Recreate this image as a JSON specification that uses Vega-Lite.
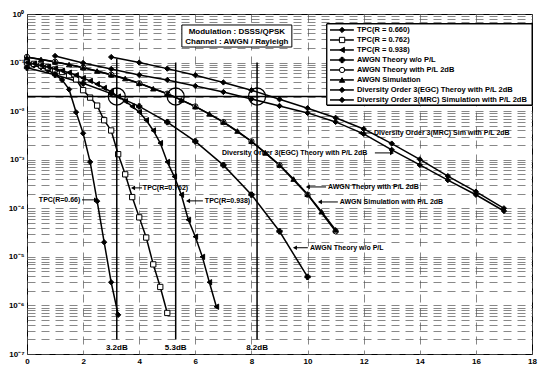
{
  "$schema": "https://vega.github.io/schema/vega-lite/v6.json",
  "width": 505,
  "height": 340,
  "autosize": {"type": "none"},
  "padding": {"left": 27, "top": 14, "right": 7, "bottom": 11},
  "background": "white",
  "config": {
    "view": {"stroke": "black", "strokeWidth": 1},
    "axis": {
      "domain": false, "ticks": false, "title": null,
      "labelFont": "Liberation Sans", "labelFontWeight": "bold", "labelFontSize": 8, "labelColor": "black",
      "gridColor": "#555", "gridDash": [8, 6], "gridWidth": 0.7, "gridOpacity": 1
    },
    "text": {"font": "Liberation Sans", "fontWeight": "bold", "fontSize": 7, "color": "black"}
  },
  "datasets": {
    "curves": [
      {"s": "TPC(R = 0.660)", "x": 0, "y": 0.095},
      {"s": "TPC(R = 0.660)", "x": 0.25, "y": 0.088},
      {"s": "TPC(R = 0.660)", "x": 0.5, "y": 0.08},
      {"s": "TPC(R = 0.660)", "x": 0.75, "y": 0.07},
      {"s": "TPC(R = 0.660)", "x": 1, "y": 0.057},
      {"s": "TPC(R = 0.660)", "x": 1.25, "y": 0.044},
      {"s": "TPC(R = 0.660)", "x": 1.5, "y": 0.028},
      {"s": "TPC(R = 0.660)", "x": 1.75, "y": 0.0095},
      {"s": "TPC(R = 0.660)", "x": 2, "y": 0.0035},
      {"s": "TPC(R = 0.660)", "x": 2.25, "y": 0.0009},
      {"s": "TPC(R = 0.660)", "x": 2.5, "y": 0.00014},
      {"s": "TPC(R = 0.660)", "x": 2.75, "y": 0.00002},
      {"s": "TPC(R = 0.660)", "x": 3, "y": 0.000003},
      {"s": "TPC(R = 0.660)", "x": 3.25, "y": 0.00000064},
      {"s": "TPC(R = 0.762)", "x": 0, "y": 0.1},
      {"s": "TPC(R = 0.762)", "x": 0.25, "y": 0.094},
      {"s": "TPC(R = 0.762)", "x": 0.5, "y": 0.087},
      {"s": "TPC(R = 0.762)", "x": 0.75, "y": 0.08},
      {"s": "TPC(R = 0.762)", "x": 1, "y": 0.072},
      {"s": "TPC(R = 0.762)", "x": 1.25, "y": 0.064},
      {"s": "TPC(R = 0.762)", "x": 1.5, "y": 0.055},
      {"s": "TPC(R = 0.762)", "x": 1.75, "y": 0.045},
      {"s": "TPC(R = 0.762)", "x": 2, "y": 0.027},
      {"s": "TPC(R = 0.762)", "x": 2.25, "y": 0.019},
      {"s": "TPC(R = 0.762)", "x": 2.5, "y": 0.013},
      {"s": "TPC(R = 0.762)", "x": 2.75, "y": 0.0065},
      {"s": "TPC(R = 0.762)", "x": 3, "y": 0.004},
      {"s": "TPC(R = 0.762)", "x": 3.25, "y": 0.0013},
      {"s": "TPC(R = 0.762)", "x": 3.5, "y": 0.0005},
      {"s": "TPC(R = 0.762)", "x": 3.75, "y": 0.00017},
      {"s": "TPC(R = 0.762)", "x": 4, "y": 0.000065},
      {"s": "TPC(R = 0.762)", "x": 4.25, "y": 0.000025},
      {"s": "TPC(R = 0.762)", "x": 4.5, "y": 0.000007},
      {"s": "TPC(R = 0.762)", "x": 4.75, "y": 0.0000024},
      {"s": "TPC(R = 0.762)", "x": 5, "y": 0.0000007},
      {"s": "TPC(R = 0.938)", "x": 0, "y": 0.1},
      {"s": "TPC(R = 0.938)", "x": 0.25, "y": 0.095},
      {"s": "TPC(R = 0.938)", "x": 0.5, "y": 0.088},
      {"s": "TPC(R = 0.938)", "x": 0.75, "y": 0.082},
      {"s": "TPC(R = 0.938)", "x": 1, "y": 0.075},
      {"s": "TPC(R = 0.938)", "x": 1.25, "y": 0.068},
      {"s": "TPC(R = 0.938)", "x": 1.5, "y": 0.062},
      {"s": "TPC(R = 0.938)", "x": 1.75, "y": 0.055},
      {"s": "TPC(R = 0.938)", "x": 2, "y": 0.048},
      {"s": "TPC(R = 0.938)", "x": 2.25, "y": 0.042},
      {"s": "TPC(R = 0.938)", "x": 2.5, "y": 0.036},
      {"s": "TPC(R = 0.938)", "x": 2.75, "y": 0.03},
      {"s": "TPC(R = 0.938)", "x": 3, "y": 0.025},
      {"s": "TPC(R = 0.938)", "x": 3.25, "y": 0.02},
      {"s": "TPC(R = 0.938)", "x": 3.5, "y": 0.016},
      {"s": "TPC(R = 0.938)", "x": 3.75, "y": 0.0125},
      {"s": "TPC(R = 0.938)", "x": 4, "y": 0.0096},
      {"s": "TPC(R = 0.938)", "x": 4.25, "y": 0.0065},
      {"s": "TPC(R = 0.938)", "x": 4.5, "y": 0.004},
      {"s": "TPC(R = 0.938)", "x": 4.75, "y": 0.0022},
      {"s": "TPC(R = 0.938)", "x": 5, "y": 0.0009},
      {"s": "TPC(R = 0.938)", "x": 5.25, "y": 0.00045},
      {"s": "TPC(R = 0.938)", "x": 5.5, "y": 0.00019},
      {"s": "TPC(R = 0.938)", "x": 5.75, "y": 0.000058},
      {"s": "TPC(R = 0.938)", "x": 6, "y": 0.000026},
      {"s": "TPC(R = 0.938)", "x": 6.25, "y": 0.00001},
      {"s": "TPC(R = 0.938)", "x": 6.5, "y": 0.000003},
      {"s": "TPC(R = 0.938)", "x": 6.75, "y": 0.00000094},
      {"s": "AWGN Theory w/o P/L", "x": 0, "y": 0.0786},
      {"s": "AWGN Theory w/o P/L", "x": 1, "y": 0.0563},
      {"s": "AWGN Theory w/o P/L", "x": 2, "y": 0.0375},
      {"s": "AWGN Theory w/o P/L", "x": 3, "y": 0.0229},
      {"s": "AWGN Theory w/o P/L", "x": 4, "y": 0.0125},
      {"s": "AWGN Theory w/o P/L", "x": 5, "y": 0.00595},
      {"s": "AWGN Theory w/o P/L", "x": 6, "y": 0.00239},
      {"s": "AWGN Theory w/o P/L", "x": 7, "y": 0.000773},
      {"s": "AWGN Theory w/o P/L", "x": 8, "y": 0.000191},
      {"s": "AWGN Theory w/o P/L", "x": 9, "y": 0.0000336},
      {"s": "AWGN Theory w/o P/L", "x": 10, "y": 0.00000387},
      {"s": "AWGN Theory with P/L 2dB", "x": 0, "y": 0.1306},
      {"s": "AWGN Theory with P/L 2dB", "x": 1, "y": 0.104},
      {"s": "AWGN Theory with P/L 2dB", "x": 2, "y": 0.0786},
      {"s": "AWGN Theory with P/L 2dB", "x": 3, "y": 0.0563},
      {"s": "AWGN Theory with P/L 2dB", "x": 4, "y": 0.0375},
      {"s": "AWGN Theory with P/L 2dB", "x": 5, "y": 0.0229},
      {"s": "AWGN Theory with P/L 2dB", "x": 6, "y": 0.0125},
      {"s": "AWGN Theory with P/L 2dB", "x": 7, "y": 0.00595},
      {"s": "AWGN Theory with P/L 2dB", "x": 8, "y": 0.00239},
      {"s": "AWGN Theory with P/L 2dB", "x": 9, "y": 0.000773},
      {"s": "AWGN Theory with P/L 2dB", "x": 10, "y": 0.000191},
      {"s": "AWGN Theory with P/L 2dB", "x": 11, "y": 0.0000336},
      {"s": "AWGN Simulation", "x": 0, "y": 0.128},
      {"s": "AWGN Simulation", "x": 0.5, "y": 0.116},
      {"s": "AWGN Simulation", "x": 1, "y": 0.103},
      {"s": "AWGN Simulation", "x": 1.5, "y": 0.091},
      {"s": "AWGN Simulation", "x": 2, "y": 0.079},
      {"s": "AWGN Simulation", "x": 2.5, "y": 0.067},
      {"s": "AWGN Simulation", "x": 3, "y": 0.056},
      {"s": "AWGN Simulation", "x": 3.5, "y": 0.047},
      {"s": "AWGN Simulation", "x": 4, "y": 0.0375},
      {"s": "AWGN Simulation", "x": 4.5, "y": 0.029},
      {"s": "AWGN Simulation", "x": 5, "y": 0.0228},
      {"s": "AWGN Simulation", "x": 5.5, "y": 0.017},
      {"s": "AWGN Simulation", "x": 6, "y": 0.0124},
      {"s": "AWGN Simulation", "x": 6.5, "y": 0.0088},
      {"s": "AWGN Simulation", "x": 7, "y": 0.006},
      {"s": "AWGN Simulation", "x": 7.5, "y": 0.0039},
      {"s": "AWGN Simulation", "x": 8, "y": 0.0024},
      {"s": "AWGN Simulation", "x": 8.5, "y": 0.00138},
      {"s": "AWGN Simulation", "x": 9, "y": 0.00078},
      {"s": "AWGN Simulation", "x": 9.5, "y": 0.0004},
      {"s": "AWGN Simulation", "x": 10, "y": 0.000195},
      {"s": "AWGN Simulation", "x": 10.5, "y": 0.000085},
      {"s": "AWGN Simulation", "x": 11, "y": 0.000036},
      {"s": "Diversity Order 3(EGC) Theroy with P/L 2dB", "x": 1, "y": 0.137},
      {"s": "Diversity Order 3(EGC) Theroy with P/L 2dB", "x": 2, "y": 0.098},
      {"s": "Diversity Order 3(EGC) Theroy with P/L 2dB", "x": 3, "y": 0.0738},
      {"s": "Diversity Order 3(EGC) Theroy with P/L 2dB", "x": 4, "y": 0.0556},
      {"s": "Diversity Order 3(EGC) Theroy with P/L 2dB", "x": 5, "y": 0.0439},
      {"s": "Diversity Order 3(EGC) Theroy with P/L 2dB", "x": 6, "y": 0.033},
      {"s": "Diversity Order 3(EGC) Theroy with P/L 2dB", "x": 7, "y": 0.0248},
      {"s": "Diversity Order 3(EGC) Theroy with P/L 2dB", "x": 8, "y": 0.0178},
      {"s": "Diversity Order 3(EGC) Theroy with P/L 2dB", "x": 9, "y": 0.0128},
      {"s": "Diversity Order 3(EGC) Theroy with P/L 2dB", "x": 10, "y": 0.0092},
      {"s": "Diversity Order 3(EGC) Theroy with P/L 2dB", "x": 11, "y": 0.006},
      {"s": "Diversity Order 3(EGC) Theroy with P/L 2dB", "x": 12, "y": 0.0034},
      {"s": "Diversity Order 3(EGC) Theroy with P/L 2dB", "x": 13, "y": 0.0016},
      {"s": "Diversity Order 3(EGC) Theroy with P/L 2dB", "x": 14, "y": 0.00078},
      {"s": "Diversity Order 3(EGC) Theroy with P/L 2dB", "x": 15, "y": 0.00038},
      {"s": "Diversity Order 3(EGC) Theroy with P/L 2dB", "x": 16, "y": 0.00019},
      {"s": "Diversity Order 3(EGC) Theroy with P/L 2dB", "x": 17, "y": 0.000088},
      {"s": "Diversity Order 3(MRC) Simulation with P/L 2dB", "x": 3, "y": 0.13},
      {"s": "Diversity Order 3(MRC) Simulation with P/L 2dB", "x": 4, "y": 0.1},
      {"s": "Diversity Order 3(MRC) Simulation with P/L 2dB", "x": 5, "y": 0.075},
      {"s": "Diversity Order 3(MRC) Simulation with P/L 2dB", "x": 6, "y": 0.055},
      {"s": "Diversity Order 3(MRC) Simulation with P/L 2dB", "x": 7, "y": 0.039},
      {"s": "Diversity Order 3(MRC) Simulation with P/L 2dB", "x": 8, "y": 0.027},
      {"s": "Diversity Order 3(MRC) Simulation with P/L 2dB", "x": 9, "y": 0.0175},
      {"s": "Diversity Order 3(MRC) Simulation with P/L 2dB", "x": 10, "y": 0.0115},
      {"s": "Diversity Order 3(MRC) Simulation with P/L 2dB", "x": 11, "y": 0.0073},
      {"s": "Diversity Order 3(MRC) Simulation with P/L 2dB", "x": 12, "y": 0.0043},
      {"s": "Diversity Order 3(MRC) Simulation with P/L 2dB", "x": 13, "y": 0.00215},
      {"s": "Diversity Order 3(MRC) Simulation with P/L 2dB", "x": 14, "y": 0.00102},
      {"s": "Diversity Order 3(MRC) Simulation with P/L 2dB", "x": 15, "y": 0.00046},
      {"s": "Diversity Order 3(MRC) Simulation with P/L 2dB", "x": 16, "y": 0.00022},
      {"s": "Diversity Order 3(MRC) Simulation with P/L 2dB", "x": 17, "y": 0.0001}
    ],
    "legendrows": [
      {"s": "TPC(R = 0.660)", "y": 0.469},
      {"s": "TPC(R = 0.762)", "y": 0.2917},
      {"s": "TPC(R = 0.938)", "y": 0.1817},
      {"s": "AWGN Theory w/o P/L", "y": 0.113},
      {"s": "AWGN Theory with P/L 2dB", "y": 0.0704},
      {"s": "AWGN Simulation", "y": 0.0439},
      {"s": "Diversity Order 3(EGC) Theroy with P/L 2dB", "y": 0.0273},
      {"s": "Diversity Order 3(MRC) Simulation with P/L 2dB", "y": 0.017}
    ],
    "refs": [
      {"x": 0, "x2": 18, "y": 0.02, "y2": 0.02},
      {"x": 3.2, "x2": 3.2, "y": 0.12, "y2": 0.0000002},
      {"x": 5.3, "x2": 5.3, "y": 0.1, "y2": 0.0000002},
      {"x": 8.2, "x2": 8.2, "y": 0.1, "y2": 0.0000002}
    ],
    "rings": [
      {"x": 3.2, "y": 0.02},
      {"x": 5.3, "y": 0.02},
      {"x": 8.2, "y": 0.02}
    ],
    "dblabels": [
      {"x": 3.2, "y": 0.000000135, "t": "3.2dB"},
      {"x": 5.3, "y": 0.000000135, "t": "5.3dB"},
      {"x": 8.2, "y": 0.000000135, "t": "8.2dB"}
    ],
    "box": [
      {"x": 5.52, "x2": 9.44, "y": 0.594, "y2": 0.209}
    ],
    "boxtext": [
      {"x": 7.48, "y": 0.426, "t": "Modulation : DSSS/QPSK"},
      {"x": 7.48, "y": 0.265, "t": "Channel : AWGN / Rayleigh"}
    ],
    "notesL": [
      {"x": 4.13, "y": 0.000263, "t": "TPC(R=0.762)"},
      {"x": 6.34, "y": 0.000142, "t": "TPC(R=0.938)"},
      {"x": 10.09, "y": 0.0000154, "t": "AWGN Theory w/o P/L"},
      {"x": 10.73, "y": 0.000275, "t": "AWGN Theory with P/L 2dB"},
      {"x": 11.15, "y": 0.000135, "t": "AWGN Simulation with P/L 2dB"},
      {"x": 6.95, "y": 0.00138, "t": "Diversity Order 3(EGC) Theory with P/L 2dB"},
      {"x": 12.37, "y": 0.00355, "t": "Diversity Order 3(MRC) Sim with P/L 2dB"}
    ],
    "notesR": [
      {"x": 1.9, "y": 0.000149, "t": "TPC(R=0.66)"}
    ],
    "arrows": [
      {"x": 1.96, "x2": 2.46, "y": 0.000149, "d": "right"},
      {"x": 4.1, "x2": 3.78, "y": 0.000263, "d": "left"},
      {"x": 6.27, "x2": 5.74, "y": 0.000142, "d": "left"},
      {"x": 10.01, "x2": 9.55, "y": 0.0000154, "d": "left"},
      {"x": 10.66, "x2": 10.01, "y": 0.000275, "d": "left"},
      {"x": 11.08, "x2": 10.44, "y": 0.000135, "d": "left"},
      {"x": 12.4, "x2": 13.01, "y": 0.00138, "d": "right"},
      {"x": 12.3, "x2": 11.87, "y": 0.00355, "d": "left"}
    ]
  },
  "encoding": {
    "y": {
      "field": "y", "type": "quantitative",
      "scale": {"type": "log", "domain": [0.0000001, 1], "nice": false},
      "axis": {
        "values": [1e-7, 2e-7, 3e-7, 4e-7, 5e-7, 6e-7, 7e-7, 8e-7, 9e-7,
                   1e-6, 2e-6, 3e-6, 4e-6, 5e-6, 6e-6, 7e-6, 8e-6, 9e-6,
                   1e-5, 2e-5, 3e-5, 4e-5, 5e-5, 6e-5, 7e-5, 8e-5, 9e-5,
                   1e-4, 2e-4, 3e-4, 4e-4, 5e-4, 6e-4, 7e-4, 8e-4, 9e-4,
                   1e-3, 2e-3, 3e-3, 4e-3, 5e-3, 6e-3, 7e-3, 8e-3, 9e-3,
                   1e-2, 2e-2, 3e-2, 4e-2, 5e-2, 6e-2, 7e-2, 8e-2, 9e-2,
                   1e-1, 2e-1, 3e-1, 4e-1, 5e-1, 6e-1, 7e-1, 8e-1, 9e-1, 1],
        "labelOverlap": false,
        "labelPadding": 3,
        "labelFlush": false,
        "labelExpr": "abs(log(datum.value)/LN10 - round(log(datum.value)/LN10)) < 0.01 ? ['10⁰','10⁻¹','10⁻²','10⁻³','10⁻⁴','10⁻⁵','10⁻⁶','10⁻⁷'][abs(round(log(datum.value)/LN10))] : ''"
      }
    }
  },
  "layer": [
    {
      "data": {"name": "curves"},
      "mark": {"type": "line", "color": "black", "strokeWidth": 1.5},
      "encoding": {
        "x": {
          "field": "x", "type": "quantitative",
          "scale": {"domain": [0, 18], "nice": false, "zero": false},
          "axis": {"values": [0, 2, 4, 6, 8, 10, 12, 14, 16, 18], "labelPadding": 3, "labelFlush": false}
        },
        "detail": {"field": "s", "type": "nominal"}
      }
    },
    {
      "data": {"name": "curves"},
      "mark": {"type": "point", "stroke": "black", "strokeWidth": 1, "opacity": 1, "filled": false},
      "encoding": {
        "x": {"field": "x", "type": "quantitative"},
        "shape": {
          "field": "s", "type": "nominal", "legend": null,
          "scale": {
            "domain": ["TPC(R = 0.660)", "TPC(R = 0.762)", "TPC(R = 0.938)", "AWGN Theory w/o P/L", "AWGN Theory with P/L 2dB", "AWGN Simulation", "Diversity Order 3(EGC) Theroy with P/L 2dB", "Diversity Order 3(MRC) Simulation with P/L 2dB"],
            "range": ["diamond", "square", "triangle-left", "cross", "circle", "triangle-up", "diamond", "diamond"]
          }
        },
        "fill": {
          "field": "s", "type": "nominal", "legend": null,
          "scale": {
            "domain": ["TPC(R = 0.660)", "TPC(R = 0.762)", "TPC(R = 0.938)", "AWGN Theory w/o P/L", "AWGN Theory with P/L 2dB", "AWGN Simulation", "Diversity Order 3(EGC) Theroy with P/L 2dB", "Diversity Order 3(MRC) Simulation with P/L 2dB"],
            "range": ["black", "white", "black", "black", "white", "black", "black", "black"]
          }
        },
        "size": {
          "field": "s", "type": "nominal", "legend": null,
          "scale": {
            "domain": ["TPC(R = 0.660)", "TPC(R = 0.762)", "TPC(R = 0.938)", "AWGN Theory w/o P/L", "AWGN Theory with P/L 2dB", "AWGN Simulation", "Diversity Order 3(EGC) Theroy with P/L 2dB", "Diversity Order 3(MRC) Simulation with P/L 2dB"],
            "range": [28, 28, 30, 35, 30, 20, 40, 60]
          }
        }
      }
    },
    {
      "data": {"name": "refs"},
      "mark": {"type": "rule", "color": "black", "strokeWidth": 1.5},
      "encoding": {"x": {"field": "x", "type": "quantitative"}, "x2": {"field": "x2"}, "y2": {"field": "y2"}}
    },
    {
      "data": {"name": "rings"},
      "mark": {"type": "point", "shape": "circle", "size": 290, "filled": false, "stroke": "black", "strokeWidth": 1.3, "opacity": 1},
      "encoding": {"x": {"field": "x", "type": "quantitative"}}
    },
    {
      "data": {"name": "dblabels"},
      "mark": {"type": "text", "fontSize": 8, "align": "center", "baseline": "middle"},
      "encoding": {"x": {"field": "x", "type": "quantitative"}, "text": {"field": "t"}}
    },
    {
      "data": {"name": "box"},
      "mark": {"type": "rect", "fill": "white", "stroke": "black", "strokeWidth": 1},
      "encoding": {"x": {"field": "x", "type": "quantitative"}, "x2": {"field": "x2"}, "y2": {"field": "y2"}}
    },
    {
      "data": {"name": "boxtext"},
      "mark": {"type": "text", "fontSize": 8, "align": "center", "baseline": "middle"},
      "encoding": {"x": {"field": "x", "type": "quantitative"}, "text": {"field": "t"}}
    },
    {
      "data": {"name": "notesL"},
      "mark": {"type": "text", "align": "left", "baseline": "middle"},
      "encoding": {"x": {"field": "x", "type": "quantitative"}, "text": {"field": "t"}}
    },
    {
      "data": {"name": "notesR"},
      "mark": {"type": "text", "align": "right", "baseline": "middle"},
      "encoding": {"x": {"field": "x", "type": "quantitative"}, "text": {"field": "t"}}
    },
    {
      "data": {"name": "arrows"},
      "mark": {"type": "rule", "color": "black", "strokeWidth": 1},
      "encoding": {"x": {"field": "x", "type": "quantitative"}, "x2": {"field": "x2"}}
    },
    {
      "data": {"name": "arrows"},
      "transform": [{"filter": "datum.d == 'left'"}],
      "mark": {"type": "point", "shape": "triangle-left", "filled": true, "color": "black", "size": 22, "opacity": 1},
      "encoding": {"x": {"field": "x2", "type": "quantitative"}}
    },
    {
      "data": {"name": "arrows"},
      "transform": [{"filter": "datum.d == 'right'"}],
      "mark": {"type": "point", "shape": "triangle-right", "filled": true, "color": "black", "size": 22, "opacity": 1},
      "encoding": {"x": {"field": "x2", "type": "quantitative"}}
    },
    {
      "data": {"name": "legendrows"},
      "mark": {"type": "rect", "fill": "white", "stroke": "black", "strokeWidth": 1},
      "encoding": {
        "x": {"datum": 10.69, "type": "quantitative"}, "x2": {"datum": 18},
        "y": {"datum": 0.623, "type": "quantitative"}, "y2": {"datum": 0.01342}
      }
    },
    {
      "data": {"name": "legendrows"},
      "mark": {"type": "rule", "color": "black", "strokeWidth": 1.5},
      "encoding": {"x": {"datum": 10.8, "type": "quantitative"}, "x2": {"datum": 11.65}}
    },
    {
      "data": {"name": "legendrows"},
      "mark": {"type": "point", "stroke": "black", "strokeWidth": 1, "opacity": 1, "filled": false},
      "encoding": {
        "x": {"datum": 11.23, "type": "quantitative"},
        "shape": {"field": "s", "type": "nominal", "legend": null},
        "fill": {"field": "s", "type": "nominal", "legend": null},
        "size": {"field": "s", "type": "nominal", "legend": null}
      }
    },
    {
      "data": {"name": "legendrows"},
      "mark": {"type": "text", "align": "left", "baseline": "middle", "fontSize": 7.5},
      "encoding": {"x": {"datum": 11.76, "type": "quantitative"}, "text": {"field": "s"}}
    }
  ]
}
